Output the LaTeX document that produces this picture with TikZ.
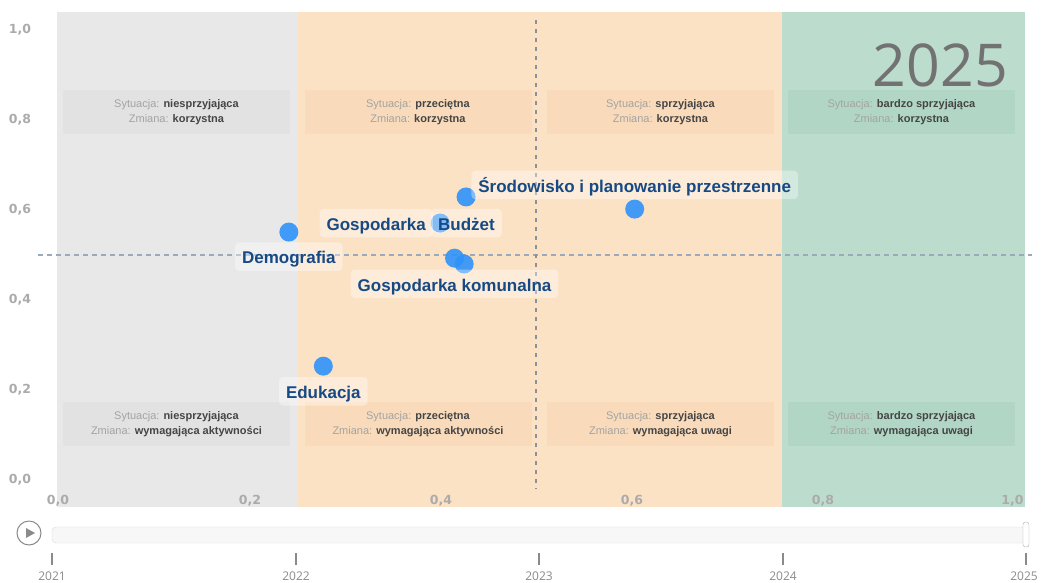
\documentclass[tikz,border=0pt]{standalone}
\usepackage{fontspec}
\setmainfont{Liberation Sans}
\newfontfamily\axisfont{DejaVu Sans}
\newfontfamily\yearfont{Open Sans}
\usetikzlibrary{positioning}
\definecolor{bandgray}{HTML}{E8E8E8}
\definecolor{bandorange}{HTML}{FBE2C5}
\definecolor{bandgreen}{HTML}{BCDCCD}
\definecolor{boxgray}{HTML}{E2E2E2}
\definecolor{boxorange}{HTML}{F9DBBB}
\definecolor{boxgreen}{HTML}{B1D6C5}
\definecolor{keygray}{HTML}{A3A3A3}
\definecolor{valgray}{HTML}{454545}
\definecolor{dotblue}{HTML}{2E93FA}
\definecolor{tagblue}{HTML}{174A84}
\definecolor{axgray}{HTML}{ABABAB}
\definecolor{guideh}{HTML}{9AAABB}
\definecolor{guidev}{HTML}{8B929A}
\definecolor{bigyear}{HTML}{727272}
\definecolor{yeargray}{HTML}{8A8A8A}
\definecolor{barline}{HTML}{DADADA}
\definecolor{barfill}{HTML}{F7F7F7}
\begin{document}
\begin{tikzpicture}[x=1pt,y=-1pt,
    quadbox/.style={minimum width=227pt,minimum height=44pt,inner sep=0pt,align=center,
      text=valgray,font=\fontsize{11}{15}\selectfont},
    bubble/.style={circle,fill=dotblue,fill opacity=.9,minimum size=19pt,inner sep=0pt},
    bubbletag/.style={fill=white,fill opacity=.35,text opacity=1,rounded corners=4pt,
      text=tagblue,font=\bfseries\fontsize{17}{17}\selectfont,
      inner xsep=7pt,inner ysep=6pt,text height=15.5pt,text depth=1pt},
    axlabel/.style={text=axgray,font=\axisfont\bfseries\fontsize{12.5}{12.5}\selectfont},
    yearlabel/.style={text=yeargray,font=\yearfont\fontsize{12}{12}\selectfont}]
  \useasboundingbox (0,0) rectangle (1041,582);

  % bands
  \fill[bandgray] (57,12) rectangle (298,507);
  \fill[bandorange] (298,12) rectangle (782,507);
  \fill[bandgreen] (782,12) rectangle (1025,507);

  % quadrant boxes
  \node[quadbox,fill=boxgray] (qtl) at (176.5,112)
    {{\color{keygray}Sytuacja:} \textbf{niesprzyjająca}\\{\color{keygray}Zmiana:} \textbf{korzystna}};
  \node[quadbox,fill=boxorange] (qtm) at (418,112)
    {{\color{keygray}Sytuacja:} \textbf{przeciętna}\\{\color{keygray}Zmiana:} \textbf{korzystna}};
  \node[quadbox,fill=boxorange] (qtn) at (660.5,112)
    {{\color{keygray}Sytuacja:} \textbf{sprzyjająca}\\{\color{keygray}Zmiana:} \textbf{korzystna}};
  \node[quadbox,fill=boxgreen] (qtr) at (901.5,112)
    {{\color{keygray}Sytuacja:} \textbf{bardzo sprzyjająca}\\{\color{keygray}Zmiana:} \textbf{korzystna}};
  \node[quadbox,fill=boxgray] (qbl) at (176.5,424)
    {{\color{keygray}Sytuacja:} \textbf{niesprzyjająca}\\{\color{keygray}Zmiana:} \textbf{wymagająca aktywności}};
  \node[quadbox,fill=boxorange] (qbm) at (418,424)
    {{\color{keygray}Sytuacja:} \textbf{przeciętna}\\{\color{keygray}Zmiana:} \textbf{wymagająca aktywności}};
  \node[quadbox,fill=boxorange] (qbn) at (660.5,424)
    {{\color{keygray}Sytuacja:} \textbf{sprzyjająca}\\{\color{keygray}Zmiana:} \textbf{wymagająca uwagi}};
  \node[quadbox,fill=boxgreen] (qbr) at (901.5,424)
    {{\color{keygray}Sytuacja:} \textbf{bardzo sprzyjająca}\\{\color{keygray}Zmiana:} \textbf{wymagająca uwagi}};

  % axes
  \node[axlabel] (y10) at (20,30) {1,0};
  \node[axlabel] (y08) at (20,120) {0,8};
  \node[axlabel] (y06) at (20,210) {0,6};
  \node[axlabel] (y04) at (20,300) {0,4};
  \node[axlabel] (y02) at (20,390) {0,2};
  \node[axlabel] (y00) at (20,480) {0,0};
  \node[axlabel] (x00) at (58,501) {0,0};
  \node[axlabel] (x02) at (250,501) {0,2};
  \node[axlabel] (x04) at (441,501) {0,4};
  \node[axlabel] (x06) at (632,501) {0,6};
  \node[axlabel] (x08) at (823,501) {0,8};
  \node[axlabel,anchor=east] (x10) at (1027,501) {1,0};

  % guides at 0,5
  \coordinate (hleft) at (38,255);
  \coordinate (hright) at (1032,255);
  \coordinate (vtop) at (536,20);
  \coordinate (vbot) at (536,489);
  \draw[guideh,line width=1.8pt,dash pattern=on 5pt off 4pt] (hleft) -- (hright);
  \draw[guidev,line width=1.8pt,dash pattern=on 4pt off 5pt] (vtop) -- (vbot);

  \node[text=bigyear,font=\yearfont\fontsize{59}{59}\selectfont,anchor=base east,
    inner sep=0pt,text depth=0pt] (year) at (1008,86) {2025};

  % points
  \begin{scope}[shift={(57,480)},x=958pt,y=450pt]
    \node[bubble] (demo) at (.242,.551) {};
    \node[bubble] (edu) at (.278,.253) {};
    \node[bubble] (gosp) at (.400,.571) {};
    \node[bubble] (budz) at (.427,.629) {};
    \node[bubble] (srod) at (.603,.602) {};
    \node[bubble] (kom) at (.415,.493) {};
    \node[bubble] (inne) at (.425,.480) {};
  \end{scope}
  \node[bubbletag,below=0.5pt of demo] (tdemo) {Demografia};
  \node[bubbletag,below=1pt of edu] (tedu) {Edukacja};
  \node[bubbletag,left=-2.5pt of gosp] (tgosp) {Gospodarka};
  \node[bubbletag,right=-19pt of gosp] (tbudz) {Budżet};
  \node[bubbletag,above=0pt of srod] (tsrod) {Środowisko i planowanie przestrzenne};
  \node[bubbletag,below=1.5pt of kom] (tkom) {Gospodarka komunalna};

  % timeline
  \node[circle,draw=yeargray,line width=1pt,minimum size=24pt,inner sep=0pt] (play) at (29,533) {};
  \fill[yeargray] (26,528) -- (26,538) -- (35,533) -- cycle;
  \draw[fill=barfill,draw=barline,rounded corners=4pt] (52,527) rectangle (1026,543);
  \draw[fill=white,draw=barline!80!black,rounded corners=2.5pt] (1023,522) rectangle (1029,547);
  \draw[yeargray,line width=1.3pt] (52,553) -- (52,565);
  \draw[yeargray,line width=1.3pt] (296,553) -- (296,565);
  \draw[yeargray,line width=1.3pt] (539,553) -- (539,565);
  \draw[yeargray,line width=1.3pt] (783,553) -- (783,565);
  \draw[yeargray,line width=1.3pt] (1026,553) -- (1026,565);
  \node[yearlabel] (t21) at (52,576) {2021};
  \node[yearlabel] (t22) at (296,576) {2022};
  \node[yearlabel] (t23) at (539,576) {2023};
  \node[yearlabel] (t24) at (783,576) {2024};
  \node[yearlabel] (t25) at (1024,576) {2025};
\end{tikzpicture}
\end{document}
